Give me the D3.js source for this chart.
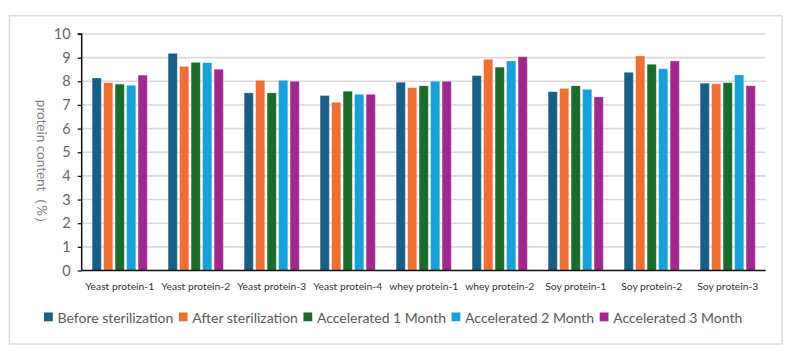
<!DOCTYPE html>
<html><head><meta charset="utf-8">
<script src="https://cdn.jsdelivr.net/npm/d3@7/dist/d3.min.js"></script>
<style>
html,body{margin:0;padding:0;background:#fff;}
svg{display:block;font-family:Lato,"Noto Sans",sans-serif;}
</style></head>
<body><svg id="c" width="800" height="364"></svg>
<script>
const categories = ["Yeast protein-1","Yeast protein-2","Yeast protein-3","Yeast protein-4","whey protein-1","whey protein-2","Soy protein-1","Soy protein-2","Soy protein-3"];
const seriesNames = ["Before sterilization","After sterilization","Accelerated 1 Month","Accelerated 2 Month","Accelerated 3 Month"];
const beforeSterilization = [8.14, 9.18, 7.51, 7.40, 7.96, 8.24, 7.56, 8.38, 7.92];
const afterSterilization  = [7.94, 8.63, 8.04, 7.11, 7.73, 8.93, 7.70, 9.07, 7.89];
const accelerated1Month   = [7.88, 8.80, 7.51, 7.58, 7.81, 8.60, 7.81, 8.72, 7.94];
const accelerated2Month   = [7.83, 8.79, 8.04, 7.45, 8.00, 8.86, 7.66, 8.53, 8.27];
const accelerated3Month   = [8.26, 8.51, 8.00, 7.45, 8.00, 9.04, 7.34, 8.86, 7.81];
const yTicks = [0,1,2,3,4,5,6,7,8,9,10];
const colors = ["#1b5e84","#ec7032","#1a6b2a","#1a9fda","#a0298f"];

const seriesValues = [beforeSterilization, afterSterilization, accelerated1Month, accelerated2Month, accelerated3Month];

const svg = d3.select("#c");
const pLeft = 81.7, pRight = 765.7, pTop = 34, pBottom = 270.5;

svg.append("rect").attr("x",9.5).attr("y",15.7).attr("width",772.5).attr("height",328.3)
  .attr("fill","#fff").attr("stroke","#dcdcdc").attr("stroke-width",1.5);

const y = d3.scaleLinear().domain([0,10]).range([pBottom, pTop]);
const x0 = d3.scaleBand().domain(categories).range([pLeft, pRight]).paddingInner(0.274).paddingOuter(0.137);
const x1 = d3.scaleBand().domain(d3.range(seriesNames.length)).range([0, x0.bandwidth()]).paddingInner(0.2).paddingOuter(0);

// gridlines
svg.append("g").selectAll("line").data(yTicks.filter(d=>d>0)).join("line")
  .attr("x1", pLeft).attr("x2", pRight).attr("y1", d=>y(d)).attr("y2", d=>y(d))
  .attr("stroke","#d9d9d9").attr("stroke-width",1.6);

// bars
const groups = svg.append("g").selectAll("g").data(categories).join("g")
  .attr("transform", c=>`translate(${x0(c)},0)`);
groups.selectAll("rect").data((c,i)=>seriesValues.map((s,k)=>({k, v:s[i]}))).join("rect")
  .attr("x", d=>x1(d.k)).attr("width", x1.bandwidth())
  .attr("y", d=>y(d.v)).attr("height", d=>y(0)-y(d.v))
  .attr("fill", d=>colors[d.k])
  .attr("stroke", "rgba(255,255,255,0.35)").attr("stroke-width",0.8);

// y axis
const yAxis = d3.axisLeft(y).tickValues(yTicks).tickSize(4).tickPadding(6).tickFormat(d3.format("d"));
const ga = svg.append("g").attr("transform",`translate(${pLeft},0)`).call(yAxis);
ga.select(".domain").attr("stroke","#111").attr("stroke-width",1.5).attr("d",`M-4,${pTop}H0V${pBottom}`);
ga.selectAll(".tick line").attr("stroke","#111").attr("stroke-width",1.3);
ga.selectAll(".tick text").attr("fill","#666").style("font-size","14.5px").style("font-family","Lato,sans-serif").attr("dx",-1);

// x axis
const xAxis = d3.axisBottom(x0).tickSize(0).tickPadding(12);
const gx = svg.append("g").attr("transform",`translate(0,${pBottom})`).call(xAxis);
gx.select(".domain").attr("stroke","#111").attr("stroke-width",1.6).attr("d",`M${pLeft},0H${pRight}`);
gx.selectAll(".tick text").attr("fill","#333").style("font-size","10.3px").style("font-family","Lato,sans-serif");

// y title
svg.append("text").attr("transform","translate(37,165) rotate(90)")
  .attr("text-anchor","middle").attr("fill","#7f7f7f").style("font-size","13.5px")
  .text("protein content（%）");

// legend
const legend = svg.append("g");
let lx = 44;
seriesNames.forEach((n,i)=>{
  legend.append("rect").attr("x",lx).attr("y",312.5).attr("width",8.8).attr("height",8.8).attr("fill",colors[i]);
  const t = legend.append("text").attr("x",lx+13.5).attr("y",322.5).attr("fill","#595959")
    .style("font-size","14px").text(n);
  lx += 13.5 + t.node().getComputedTextLength() + 5.5;
});
</script></body></html>
